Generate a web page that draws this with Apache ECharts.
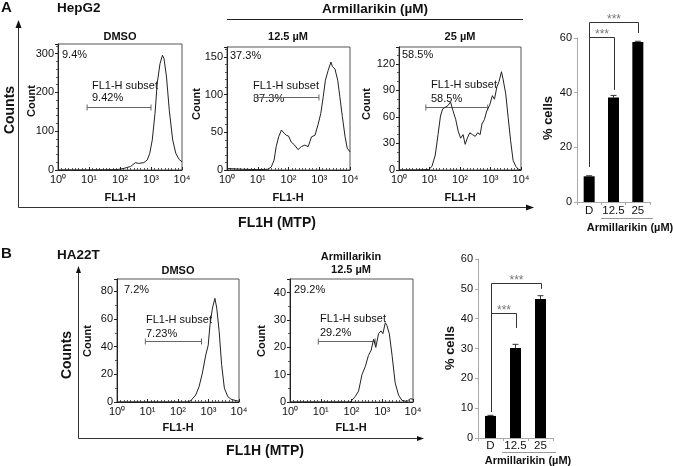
<!DOCTYPE html>
<html><head><meta charset="utf-8">
<script src="https://cdn.jsdelivr.net/npm/echarts@6/dist/echarts.min.js"></script>
<style>html,body{margin:0;padding:0;background:#fff}#c{width:673px;height:466px}</style>
</head><body><div id="c"></div>
<script>
const FONT = "'Liberation Sans', Arial, Helvetica, sans-serif";

// Histogram curves: [log10(FL1-H), count]
const histA_DMSO = [[0,0],[0.5,0],[1,0],[1.5,0.5],[1.9,1],[2.12,4],[2.34,9],[2.5,19],[2.6,17],[2.77,19],[2.88,26],[2.96,43],[3.04,77],[3.13,146],[3.2,223],[3.29,274],[3.37,296],[3.42,287],[3.5,240],[3.59,154],[3.7,77],[3.8,43],[3.91,27],[4.0,21]];
const histA_125 = [[0,2],[0.05,1],[0.5,1],[1,0.5],[1.33,1],[1.44,4],[1.53,13],[1.6,31],[1.68,44],[1.77,53],[1.85,49],[1.93,46],[2.0,45],[2.09,37],[2.2,33],[2.31,27],[2.42,31],[2.53,33],[2.64,31],[2.75,44],[2.86,46],[2.96,60],[3.05,75],[3.13,97],[3.2,119],[3.29,132],[3.38,143],[3.43,137],[3.51,134],[3.6,119],[3.67,97],[3.75,71],[3.84,44],[3.91,29],[4.0,24]];
const histA_25 = [[0,0],[0.5,0],[0.97,0.5],[1.08,4],[1.19,17],[1.28,40],[1.36,61],[1.43,69],[1.52,71],[1.61,73],[1.69,77],[1.77,67],[1.86,57],[1.94,44],[2.02,36],[2.1,40],[2.17,29],[2.24,36],[2.32,42],[2.41,40],[2.5,38],[2.58,42],[2.66,40],[2.72,52],[2.8,57],[2.88,67],[2.97,73],[3.06,84],[3.13,80],[3.21,94],[3.28,100],[3.36,111],[3.41,103],[3.5,86],[3.58,59],[3.66,33],[3.74,11],[3.83,4],[3.91,1],[4.0,0]];
const histB_DMSO = [[0,0],[1,0],[2.3,0],[2.42,1],[2.58,5],[2.69,11],[2.8,21],[2.91,34],[2.99,41],[3.05,56],[3.13,68],[3.21,75],[3.27,68],[3.35,51],[3.43,27],[3.52,10],[3.63,4],[3.74,2],[3.9,1],[4.0,0.5]];
const histB_125 = [[0,0],[1,0],[1.96,0],[2.01,0.2],[2.12,2],[2.23,4],[2.34,10],[2.45,13],[2.55,17],[2.64,19],[2.72,23],[2.79,20],[2.88,25],[2.96,26],[3.02,25],[3.1,29],[3.15,28],[3.23,25],[3.32,17],[3.42,7],[3.53,2.5],[3.64,0.6],[3.8,0.2],[3.91,1.2],[4.0,1]];

// Gates: [start decade, end decade, count level]
const gateA_DMSO = [0.94, 3.0, 163];
const gateA_125 = [0.89, 2.99, 97];
const gateA_25 = [0.88, 2.91, 71];
const gateB_DMSO = [0.93, 2.77, 44];
const gateB_125 = [0.92, 2.77, 22.5];

const histTickLabels = ['10\u2070','10\u00b9','10\u00b2','10\u00b3','10\u2074'];

// Bar charts
const barCategories = ['D', '12.5', '25'];
const barA = [9.4, 38.2, 58.5];
const errA = [0.2, 0.8, 0.3];
const barB = [7.4, 30.2, 46.6];
const errB = [0.2, 1.2, 1.1];
// brackets: [from cat, to cat, line level, left drop, right drop]
const bracketsA = [[0, 2, 65.9, 12.8, 61.8], [0, 1, 60.4, 12.8, 41]];
const bracketsB = [[0, 2, 52, 8.7, 50], [0, 1, 41.9, 8.7, 36.9]];

const chart = echarts.init(document.getElementById('c'), null, {renderer: 'canvas'});

function gateRender(params, api) {
  const p0 = api.coord([api.value(0), api.value(2)]);
  const p1 = api.coord([api.value(1), api.value(2)]);
  const y = Math.round(p0[1]) + 0.5;
  const st = {stroke: '#666', lineWidth: 1};
  return {type: 'group', children: [
    {type: 'line', shape: {x1: p0[0], y1: y, x2: p1[0], y2: y}, style: st},
    {type: 'line', shape: {x1: p0[0], y1: y - 3, x2: p0[0], y2: y + 3}, style: st},
    {type: 'line', shape: {x1: p1[0], y1: y - 3, x2: p1[0], y2: y + 3}, style: st}
  ]};
}
function errRender(params, api) {
  const x = api.value(0), v = api.value(1), e = api.value(2);
  const p0 = api.coord([x, v]); const p1 = api.coord([x, v + e]);
  const st = {stroke: '#333', lineWidth: 1};
  return {type: 'group', children: [
    {type: 'line', shape: {x1: p0[0], y1: p0[1], x2: p1[0], y2: p1[1]}, style: st},
    {type: 'line', shape: {x1: p1[0] - 3, y1: p1[1], x2: p1[0] + 3, y2: p1[1]}, style: st}
  ]};
}
function bracketRender(params, api) {
  const a = api.value(0), b = api.value(1), top = api.value(2), ld = api.value(3), rd = api.value(4);
  const pA = api.coord([a, ld]), pT1 = api.coord([a, top]), pB = api.coord([b, rd]);
  const xa = Math.round(pA[0]) + 0.5, xb = Math.round(pB[0]) + 0.5, yt = Math.round(pT1[1]) + 0.5;
  return {type: 'group', children: [
    {type: 'polyline', shape: {points: [[xa, pA[1]], [xa, yt], [xb, yt], [xb, pB[1]]]}, style: {stroke: '#333', lineWidth: 1, fill: null}},
    {type: 'text', style: {text: '***', x: (xa + xb) / 2, y: yt - 3, align: 'center', verticalAlign: 'middle', fontSize: 12, fill: '#777', fontFamily: FONT}}
  ]};
}

const hists = [
  {data: histA_DMSO, gate: gateA_DMSO, ymax: 325, step: 100, minor: 5, rect: {left: 58, top: 44, width: 124, height: 126}},
  {data: histA_125, gate: gateA_125, ymax: 163, step: 50, minor: 5, rect: {left: 227, top: 47, width: 123, height: 123}},
  {data: histA_25, gate: gateA_25, ymax: 139, step: 30, minor: 3, rect: {left: 399, top: 47, width: 122, height: 123}},
  {data: histB_DMSO, gate: gateB_DMSO, ymax: 89, step: 20, minor: 2, rect: {left: 117, top: 279, width: 122, height: 123}},
  {data: histB_125, gate: gateB_125, ymax: 45, step: 10, minor: 2, rect: {left: 290, top: 279, width: 123, height: 123}}
];
const bars = [
  {vals: barA, errs: errA, brackets: bracketsA, step: 20, margin: 3, rect: {left: 577, top: 38, width: 73, height: 164}},
  {vals: barB, errs: errB, brackets: bracketsB, step: 10, margin: 2, rect: {left: 478, top: 259, width: 75, height: 179}}
];

const grids = [], xAxes = [], yAxes = [], series = [];
hists.forEach((h, i) => {
  grids.push(Object.assign({show: true, borderColor: '#555', borderWidth: 1, backgroundColor: 'transparent', containLabel: false, outerBoundsMode: 'none'}, h.rect));
  xAxes.push({gridIndex: i, type: 'value', min: 0, max: 4, interval: 1,
    axisLine: {show: true, lineStyle: {color: '#222', width: 1}},
    axisTick: {show: true, inside: true, length: 3, lineStyle: {color: '#222'}},
    minorTick: {show: true, splitNumber: 9, length: 2, lineStyle: {color: '#555'}},
    splitLine: {show: false}, minorSplitLine: {show: false},
    axisLabel: {margin: 4, fontSize: 11, color: '#111', fontFamily: FONT, formatter: v => histTickLabels[Math.round(v)] || ''}});
  yAxes.push({gridIndex: i, type: 'value', min: 0, max: h.ymax, interval: h.step,
    axisLine: {show: true, lineStyle: {color: '#222', width: 1}},
    axisTick: {show: true, length: 3, lineStyle: {color: '#222'}},
    minorTick: {show: true, splitNumber: h.minor, length: 2, lineStyle: {color: '#555'}},
    splitLine: {show: false}, minorSplitLine: {show: false},
    axisLabel: {margin: 4, fontSize: 11, color: '#111', fontFamily: FONT, showMaxLabel: false, formatter: v => (v % h.step === 0 ? String(v) : '')}});
  series.push({type: 'line', xAxisIndex: i, yAxisIndex: i, data: h.data, showSymbol: false, symbol: 'none', lineStyle: {color: '#222', width: 1}, silent: true, animation: false});
  series.push({type: 'custom', xAxisIndex: i, yAxisIndex: i, data: [h.gate], renderItem: gateRender, clip: false, silent: true, animation: false});
});
bars.forEach((b, j) => {
  const i = hists.length + j;
  grids.push(Object.assign({show: false, containLabel: false, outerBoundsMode: 'none'}, b.rect));
  xAxes.push({gridIndex: i, type: 'category', data: barCategories,
    axisLine: {show: true, lineStyle: {color: '#aaa'}},
    axisTick: {show: true, length: 3, interval: 0, lineStyle: {color: '#aaa'}},
    axisLabel: {margin: b.margin, interval: 0, hideOverlap: false, fontSize: 11.5, color: '#111', fontFamily: FONT}});
  yAxes.push({gridIndex: i, type: 'value', min: 0, max: 60, interval: b.step,
    axisLine: {show: true, lineStyle: {color: '#aaa'}},
    axisTick: {show: true, length: 3, lineStyle: {color: '#aaa'}},
    splitLine: {show: false},
    axisLabel: {margin: 5, fontSize: 11, color: '#111', fontFamily: FONT}});
  series.push({type: 'bar', xAxisIndex: i, yAxisIndex: i, data: b.vals, barWidth: 11, itemStyle: {color: '#000'}, silent: true, animation: false});
  series.push({type: 'custom', xAxisIndex: i, yAxisIndex: i, data: b.vals.map((v, k) => [k, v, b.errs[k]]), renderItem: errRender, clip: false, silent: true, animation: false});
  series.push({type: 'custom', xAxisIndex: i, yAxisIndex: i, data: b.brackets, renderItem: bracketRender, clip: false, silent: true, animation: false});
});

function T(text, x, y, o) {
  o = o || {};
  const el = {type: 'text', x: x, y: y, silent: true, style: {text: text, fontFamily: FONT,
    fontSize: o.size || 11, fontWeight: o.bold ? 'bold' : 'normal', fill: o.color || '#111',
    align: o.align || 'center', verticalAlign: 'middle'}};
  if (o.rot) el.rotation = Math.PI / 2;
  return el;
}
function L(x1, y1, x2, y2, c) {
  return {type: 'line', silent: true, shape: {x1: x1, y1: y1, x2: x2, y2: y2}, style: {stroke: c || '#333', lineWidth: 1}};
}
function P(pts) {
  return {type: 'polygon', silent: true, shape: {points: pts}, style: {fill: '#111'}};
}

const graphic = [
  // Panel A
  T('A', 1, 8, {bold: true, size: 15, align: 'left'}),
  T('HepG2', 57, 8, {bold: true, size: 13.5, align: 'left'}),
  T('Armillarikin (\u00b5M)', 375, 9, {bold: true, size: 13.5}),
  L(227, 19.5, 523, 19.5, '#222'),
  T('DMSO', 120, 37, {bold: true}), T('12.5 \u00b5M', 288, 37, {bold: true}), T('25 \u00b5M', 460, 37, {bold: true}),
  T('Count', 32, 101, {bold: true, rot: true}), T('Count', 197, 104, {bold: true, rot: true}), T('Count', 367, 104, {bold: true, rot: true}),
  T('9.4%', 62, 55, {align: 'left'}), T('37.3%', 230, 56, {align: 'left'}), T('58.5%', 402, 55, {align: 'left'}),
  T('FL1-H subset', 92, 86, {align: 'left'}), T('9.42%', 92, 98, {align: 'left'}),
  T('FL1-H subset', 253, 86, {align: 'left'}), T('37.3%', 253, 99, {align: 'left'}),
  T('FL1-H subset', 431, 85, {align: 'left'}), T('58.5%', 431, 99, {align: 'left'}),
  T('FL1-H', 120, 198, {bold: true}), T('FL1-H', 288, 198, {bold: true}), T('FL1-H', 460, 198, {bold: true}),
  T('Counts', 10, 110, {bold: true, size: 14, rot: true}),
  T('FL1H (MTP)', 277, 223, {bold: true, size: 14}),
  L(18.5, 207.5, 18.5, 26), P([[18.5, 20], [15.5, 28], [21.5, 28]]),
  L(18.5, 207.5, 527, 207.5), P([[534, 207.5], [526, 204.5], [526, 210.5]]),
  T('% cells', 548, 118, {bold: true, size: 13, rot: true}),
  L(601, 218.5, 653, 218.5, '#999'),
  T('Armillarikin (\u00b5M)', 630, 228, {bold: true}),
  // Panel B
  T('B', 1, 254, {bold: true, size: 15, align: 'left'}),
  T('HA22T', 57, 255, {bold: true, size: 13.5, align: 'left'}),
  T('DMSO', 178, 271, {bold: true}),
  T('Armillarikin', 351, 257, {bold: true}), T('12.5 \u00b5M', 351, 270, {bold: true}),
  T('Count', 88, 341, {bold: true, rot: true}), T('Count', 262, 341, {bold: true, rot: true}),
  T('7.2%', 124, 290, {align: 'left'}), T('29.2%', 294, 290, {align: 'left'}),
  T('FL1-H subset', 146, 320, {align: 'left'}), T('7.23%', 146, 334, {align: 'left'}),
  T('FL1-H subset', 320, 319, {align: 'left'}), T('29.2%', 320, 333, {align: 'left'}),
  T('FL1-H', 178, 428, {bold: true}), T('FL1-H', 351, 428, {bold: true}),
  T('Counts', 67, 355, {bold: true, size: 14, rot: true}),
  T('FL1H (MTP)', 265, 451, {bold: true, size: 14}),
  L(78.5, 438.5, 78.5, 272), P([[78.5, 266], [76, 273], [81, 273]]),
  L(78.5, 438.5, 418, 438.5), P([[424, 438.5], [417, 436], [417, 441]]),
  T('% cells', 450, 348, {bold: true, size: 13, rot: true}),
  L(502, 452.5, 556, 452.5, '#999'),
  T('Armillarikin (\u00b5M)', 528, 461, {bold: true})
];

chart.setOption({
  animation: false,
  backgroundColor: '#fff',
  textStyle: {fontFamily: FONT},
  grid: grids, xAxis: xAxes, yAxis: yAxes, series: series,
  graphic: graphic
});
</script>
</body></html>
